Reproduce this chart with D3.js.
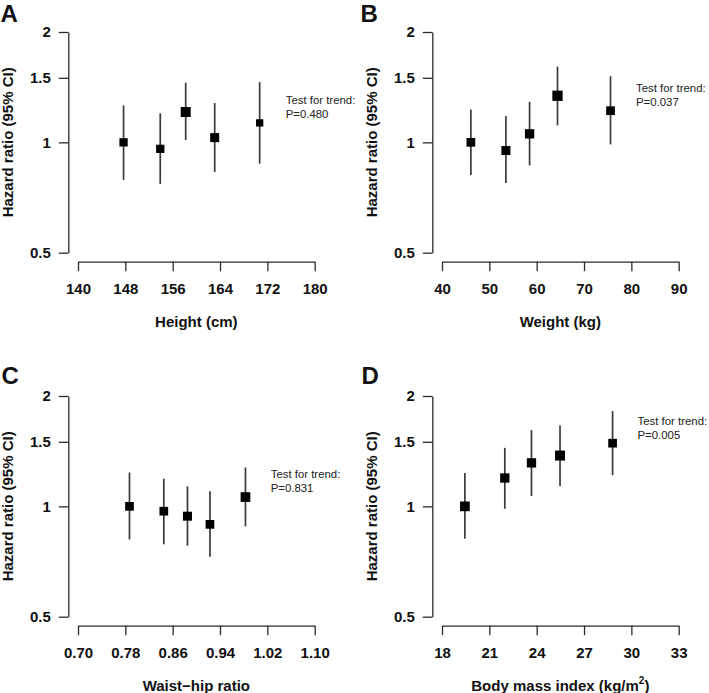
<!DOCTYPE html>
<html>
<head>
<meta charset="utf-8">
<script src="https://cdn.jsdelivr.net/npm/d3@7"></script>
<style>
  html, body { margin: 0; padding: 0; background: #fff; }
  svg { display: block; font-family: "Liberation Sans", Arial, sans-serif; }
</style>
</head>
<body>
<svg id="chart" width="709" height="693"></svg>
<script>
// ---------- DATA ----------
const panelLabels = ["A", "B", "C", "D"];
const xTitles = ["Height (cm)", "Weight (kg)", "Waist\u2212hip ratio", "Body mass index (kg/m"];
const yTitle = "Hazard ratio (95% CI)";
const yTicks = [0.5, 1, 1.5, 2];
const yTickLabels = ["0.5", "1", "1.5", "2"];

const xTicksA = [140, 148, 156, 164, 172, 180];
const xTicksB = [40, 50, 60, 70, 80, 90];
const xTicksC = [0.70, 0.78, 0.86, 0.94, 1.02, 1.10];
const xTicksD = [18, 21, 24, 27, 30, 33];
const xTickLabelsC = ["0.70", "0.78", "0.86", "0.94", "1.02", "1.10"];

// Height
const heightX  = [147.7, 153.9, 158.2, 163.1, 170.7];
const heightHR = [1.00, 0.96, 1.21, 1.03, 1.13];
const heightLo = [0.79, 0.77, 1.015, 0.83, 0.875];
const heightHi = [1.26, 1.20, 1.455, 1.28, 1.46];
const heightW  = [8.3, 8.3, 10, 9, 7.3];

// Weight
const weightX  = [46.1, 53.5, 58.5, 64.4, 75.6];
const weightHR = [1.00, 0.95, 1.055, 1.34, 1.22];
const weightLo = [0.815, 0.775, 0.865, 1.113, 0.987];
const weightHi = [1.23, 1.18, 1.29, 1.61, 1.515];
const weightW  = [8.7, 9, 9.3, 10.3, 8.7];

// Waist-hip ratio
const whrX  = [0.787, 0.845, 0.885, 0.923, 0.983];
const whrHR = [1.00, 0.97, 0.94, 0.893, 1.06];
const whrLo = [0.812, 0.788, 0.781, 0.729, 0.882];
const whrHi = [1.237, 1.19, 1.134, 1.099, 1.276];
const whrW  = [8.7, 8.7, 9, 8.7, 9.7];

// BMI
const bmiX  = [19.45, 21.98, 23.67, 25.48, 28.81];
const bmiHR = [1.00, 1.195, 1.314, 1.376, 1.487];
const bmiLo = [0.816, 0.985, 1.067, 1.134, 1.216];
const bmiHi = [1.233, 1.444, 1.614, 1.663, 1.82];
const bmiW  = [9.7, 9.3, 9.3, 10, 8.7];

const trendPs = ["P=0.480", "P=0.037", "P=0.831", "P=0.005"];
const trendLabel = "Test for trend:";

// ---------- LAYOUT ----------
const panels = [
  { label: panelLabels[0], title: xTitles[0], ticks: xTicksA, tickLabels: xTicksA.map(String),
    x: heightX, hr: heightHR, lo: heightLo, hi: heightHi, w: heightW, p: trendPs[0],
    ox: 0, oy: 0, textX: 285.7, textY: 103.5, labelX: 0.5, labelY: 21.8 },
  { label: panelLabels[1], title: xTitles[1], ticks: xTicksB, tickLabels: xTicksB.map(String),
    x: weightX, hr: weightHR, lo: weightLo, hi: weightHi, w: weightW, p: trendPs[1],
    ox: 364, oy: 0, textX: 272, textY: 91.5, labelX: -3.5, labelY: 21.8 },
  { label: panelLabels[2], title: xTitles[2], ticks: xTicksC, tickLabels: xTickLabelsC,
    x: whrX, hr: whrHR, lo: whrLo, hi: whrHi, w: whrW, p: trendPs[2],
    ox: 0, oy: 364, textX: 270.7, textY: 114, labelX: 1.5, labelY: 19.8 },
  { label: panelLabels[3], title: xTitles[3], ticks: xTicksD, tickLabels: xTicksD.map(String),
    x: bmiX, hr: bmiHR, lo: bmiLo, hi: bmiHi, w: bmiW, p: trendPs[3], sup: "2",
    ox: 364, oy: 364, textX: 273.5, textY: 61, labelX: -2.5, labelY: 19.8 }
];

const yAxisX = 68.3, xLeft = 78, xRight = 314.7;
const yTop = 32, yBottom = 252.7, xAxisY = 261.7, tickLen = 9.5;
const axisColor = "#2a2a2a";

const svg = d3.select("#chart");

panels.forEach(p => {
  const g = svg.append("g").attr("transform", `translate(${p.ox},${p.oy})`);
  const x = d3.scaleLinear().domain([p.ticks[0], p.ticks[p.ticks.length - 1]]).range([xLeft, xRight]);
  const y = d3.scaleLog().base(2).domain([0.5, 2]).range([yBottom, yTop]);

  // Y axis
  const yAxis = d3.axisLeft(y).tickValues(yTicks).tickFormat((d, i) => yTickLabels[i])
    .tickSizeInner(tickLen).tickSizeOuter(0).tickPadding(8);
  const ya = g.append("g").attr("transform", `translate(${yAxisX},0)`).call(yAxis);
  ya.select(".domain").attr("stroke", axisColor).attr("stroke-width", 1.3);
  ya.selectAll(".tick line").attr("stroke", axisColor).attr("stroke-width", 1.3);
  ya.selectAll(".tick text").attr("font-family", "Liberation Sans, Arial, sans-serif")
    .attr("font-size", 15).attr("font-weight", "bold").attr("fill", "#111");

  // X axis
  const xAxis = d3.axisBottom(x).tickValues(p.ticks).tickFormat((d, i) => p.tickLabels[i])
    .tickSizeInner(tickLen).tickSizeOuter(0).tickPadding(12);
  const xa = g.append("g").attr("transform", `translate(0,${xAxisY})`).call(xAxis);
  xa.select(".domain").attr("stroke", axisColor).attr("stroke-width", 1.3);
  xa.selectAll(".tick line").attr("stroke", axisColor).attr("stroke-width", 1.3);
  xa.selectAll(".tick text").attr("font-family", "Liberation Sans, Arial, sans-serif")
    .attr("font-size", 15).attr("font-weight", "bold").attr("fill", "#111");

  // Axis titles
  const xt = g.append("text")
    .attr("x", (xLeft + xRight) / 2).attr("y", 327)
    .attr("text-anchor", "middle").attr("font-size", 15).attr("font-weight", "bold").attr("fill", "#111")
    .text(p.title);
  if (p.sup) {
    xt.append("tspan").attr("font-size", 10).attr("dy", -7).text(p.sup);
    xt.append("tspan").attr("dy", 7).text(")");
  }
  g.append("text")
    .attr("transform", `translate(${12.8},${(yTop + yBottom) / 2}) rotate(-90)`)
    .attr("text-anchor", "middle").attr("font-size", 15).attr("font-weight", "bold").attr("fill", "#111")
    .text(yTitle);

  // Panel label
  g.append("text").attr("x", p.labelX).attr("y", p.labelY)
    .attr("font-size", 24).attr("font-weight", "bold").attr("fill", "#111").text(p.label);

  // Trend text
  const tt = g.append("text").attr("x", p.textX).attr("y", p.textY)
    .attr("font-size", 11.4).attr("fill", "#222");
  tt.append("tspan").attr("x", p.textX).text(trendLabel);
  tt.append("tspan").attr("x", p.textX).attr("dy", 14.4).text(p.p);

  // Error bars & markers
  const data = p.x.map((v, i) => ({ x: v, hr: p.hr[i], lo: p.lo[i], hi: p.hi[i], w: p.w[i] }));
  g.selectAll("line.ci").data(data).enter().append("line")
    .attr("class", "ci")
    .attr("x1", d => x(d.x)).attr("x2", d => x(d.x))
    .attr("y1", d => y(d.lo)).attr("y2", d => y(d.hi))
    .attr("stroke", "#3a3a3a").attr("stroke-width", 1.7);
  g.selectAll("rect.pt").data(data).enter().append("rect")
    .attr("class", "pt")
    .attr("x", d => x(d.x) - d.w / 2).attr("y", d => y(d.hr) - d.w / 2)
    .attr("width", d => d.w).attr("height", d => d.w)
    .attr("fill", "#000");
});
</script>
</body>
</html>
